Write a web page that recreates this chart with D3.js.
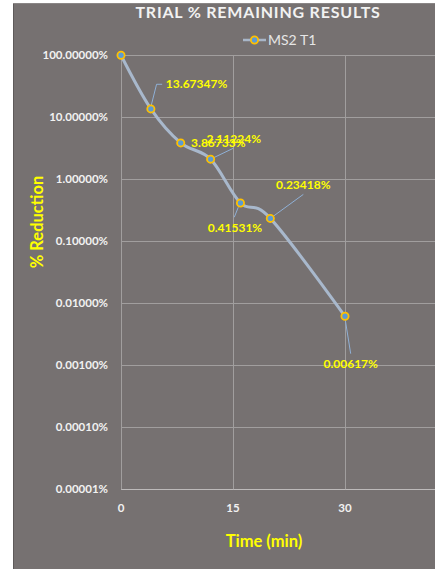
<!DOCTYPE html>
<html>
<head>
<meta charset="utf-8">
<script src="https://cdn.jsdelivr.net/npm/d3@7/dist/d3.min.js"></script>
<style>
  html, body { margin: 0; padding: 0; background: #ffffff; }
  svg { display: block; }
  text { font-family: Lato, "Open Sans", sans-serif; }
</style>
</head>
<body>
<div id="chart"></div>
<script>
// ---- Data ----
const times = [0, 4, 8, 12, 16, 20, 30];              // minutes
const remaining = [100, 13.67347, 3.86733, 2.11224, 0.41531, 0.23418, 0.00617]; // percent
const labelText = [null, "13.67347%", "3.86733%", "2.11224%", "0.41531%", "0.23418%", "0.00617%"];
const xTicks = [0, 15, 30, 45];
const xTickLabels = [0, 15, 30];
const yTicks = [100, 10, 1, 0.1, 0.01, 0.001, 0.0001, 0.00001];
const seriesName = "MS2 T1";
const chartTitle = "TRIAL % REMAINING RESULTS";
const xTitle = "Time (min)";
const yTitle = "% Reduction";

// ---- Layout (label placement relative to each point) ----
const labelLayout = [
  null,
  { dx: 45.7, dy: -24.6, leader: [[0, -2], [5.7, -24.6], [11.3, -24.6]] },
  { dx: 37.6, dy: 0.4, leader: null },
  { dx: 23.2, dy: -19.9, leader: [[0, 0], [22.7, -10.9]] },
  { dx: -5.5, dy: 24.7, leader: [[-2.2, 4.3], [-6.2, 14.3]] },
  { dx: 33, dy: -33.4, leader: [[0, 0], [33, -24]] },
  { dx: 5.7, dy: 47, leader: [[0, 2], [5.7, 37.4]] }
];

const W = 435, H = 569;
const svg = d3.select("#chart").append("svg").attr("width", W).attr("height", H);

// background
svg.append("rect").attr("x", 0).attr("y", 0).attr("width", W).attr("height", H).attr("fill", "#ffffff");
svg.append("rect").attr("x", 13).attr("y", 3).attr("width", W - 13).attr("height", H - 3).attr("fill", "#767171");
svg.append("line").attr("x1", 13.5).attr("x2", 13.5).attr("y1", 3).attr("y2", H).attr("stroke", "#5e5a5a").attr("stroke-width", 1);
svg.append("line").attr("x1", 13).attr("x2", W).attr("y1", 3.5).attr("y2", 3.5).attr("stroke", "#8a8686").attr("stroke-width", 1);

const x = d3.scaleLinear().domain([0, 45]).range([121, 457]);
const y = d3.scaleLog().domain([0.00001, 100]).range([489.3, 55.3]);

const plotLeft = 121, plotRight = 457;

// gridlines
const grid = svg.append("g");
grid.selectAll(".hg").data(yTicks).enter().append("line")
  .attr("x1", plotLeft).attr("x2", plotRight)
  .attr("y1", d => Math.round(y(d)) + 0.5).attr("y2", d => Math.round(y(d)) + 0.5)
  .attr("stroke", d => d === 0.00001 ? "#bdbaba" : "#a19e9e").attr("stroke-width", 1);
grid.selectAll(".vg").data(xTicks).enter().append("line")
  .attr("x1", d => Math.round(x(d)) + 0.5).attr("x2", d => Math.round(x(d)) + 0.5)
  .attr("y1", y(100)).attr("y2", y(0.00001))
  .attr("stroke", "#a19e9e").attr("stroke-width", 1);

// y tick labels
const fmt = d => d.toFixed(5) + "%";
svg.append("g").selectAll("text").data(yTicks).enter().append("text")
  .attr("x", 108).attr("y", d => y(d)).attr("dy", "0.35em")
  .attr("text-anchor", "end").attr("fill", "#f2f2f2")
  .attr("font-size", "11.5px").attr("font-weight", "bold")
  .text(fmt);

// x tick labels
svg.append("g").selectAll("text").data(xTickLabels).enter().append("text")
  .attr("x", d => x(d)).attr("y", 508).attr("dy", "0.35em")
  .attr("text-anchor", "middle").attr("fill", "#f2f2f2")
  .attr("font-size", "11.5px").attr("font-weight", "bold")
  .text(d => d);

// titles
svg.append("text").attr("x", 258).attr("y", 12.5).attr("dy", "0.35em")
  .attr("text-anchor", "middle").attr("fill", "#f2f2f2")
  .attr("font-size", "16px").attr("font-weight", "bold").attr("letter-spacing", "0.8px")
  .text(chartTitle);

svg.append("text").attr("x", 264).attr("y", 541.5).attr("dy", "0.35em")
  .attr("text-anchor", "middle").attr("fill", "#ffff00")
  .attr("font-size", "16.5px").attr("font-weight", "bold")
  .text(xTitle);

svg.append("text").attr("transform", "translate(37,222) rotate(-90)").attr("dy", "0.35em")
  .attr("text-anchor", "middle").attr("fill", "#ffff00")
  .attr("font-size", "16.5px").attr("font-weight", "bold")
  .text(yTitle);

// legend
const lg = svg.append("g");
lg.append("line").attr("x1", 243).attr("x2", 266).attr("y1", 40).attr("y2", 40)
  .attr("stroke", "#a8b6c8").attr("stroke-width", 2.5);
lg.append("circle").attr("cx", 254.5).attr("cy", 40).attr("r", 3.6)
  .attr("fill", "#5b9bd5").attr("stroke", "#ffc000").attr("stroke-width", 1.8);
lg.append("text").attr("x", 268).attr("y", 40).attr("dy", "0.35em")
  .attr("fill", "#e6e6e6").attr("font-size", "14px").text(seriesName);

// data
const pts = times.map((t, i) => ({ t, v: remaining[i], label: labelText[i], lay: labelLayout[i] }));

// leader lines
svg.append("g").selectAll("path").data(pts.filter(p => p.lay && p.lay.leader)).enter().append("path")
  .attr("d", p => {
    const px = x(p.t), py = y(p.v);
    return "M" + p.lay.leader.map(q => (px + q[0]) + "," + (py + q[1])).join("L");
  })
  .attr("fill", "none").attr("stroke", "#8fb0d6").attr("stroke-width", 1);

// series line
const line = d3.line().x(p => x(p.t)).y(p => y(p.v)).curve(d3.curveCardinal.tension(0));
svg.append("path").datum(pts).attr("d", line)
  .attr("fill", "none").attr("stroke", "#a8b8cc").attr("stroke-width", 3).attr("stroke-linecap", "round");

// markers
svg.append("g").selectAll("circle").data(pts).enter().append("circle")
  .attr("cx", p => x(p.t)).attr("cy", p => y(p.v)).attr("r", 3.6)
  .attr("fill", "#5b9bd5").attr("stroke", "#ffc000").attr("stroke-width", 1.8);

// data labels
svg.append("g").selectAll("text").data(pts.filter(p => p.label)).enter().append("text")
  .attr("x", p => x(p.t) + p.lay.dx).attr("y", p => y(p.v) + p.lay.dy).attr("dy", "0.35em")
  .attr("text-anchor", "middle").attr("fill", "#ffff00")
  .attr("font-size", "12px").attr("font-weight", "bold")
  .text(p => p.label);
</script>
</body>
</html>
